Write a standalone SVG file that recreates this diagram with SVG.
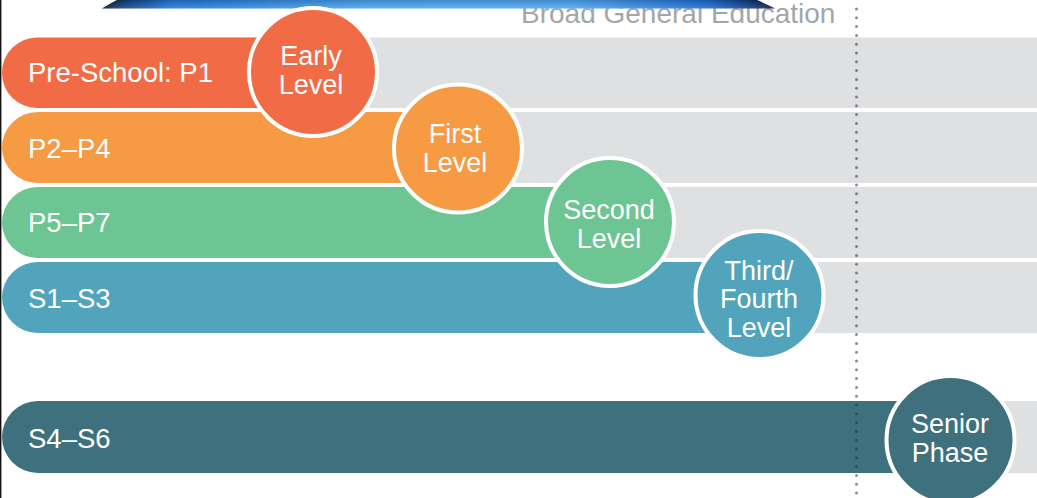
<svg xmlns="http://www.w3.org/2000/svg" width="1037" height="498" viewBox="0 0 1037 498">
<defs>
<linearGradient id="banner" x1="0" y1="0" x2="1" y2="0">
<stop offset="0" stop-color="#050c18"/>
<stop offset="0.03" stop-color="#0d3a78"/>
<stop offset="0.1" stop-color="#1f74d4"/>
<stop offset="0.4" stop-color="#47a2f0"/>
<stop offset="0.7" stop-color="#4aa4f2"/>
<stop offset="0.9" stop-color="#1a6ad0"/>
<stop offset="0.97" stop-color="#0a3270"/>
<stop offset="1" stop-color="#041430"/>
</linearGradient>
<linearGradient id="bannerV" x1="0" y1="0" x2="0" y2="1">
<stop offset="0" stop-color="#000" stop-opacity="0.15"/>
<stop offset="1" stop-color="#fff" stop-opacity="0.15"/>
</linearGradient>
</defs>
<style>
.gray{fill:#dfe0e2}
.bar-label{font-family:"Liberation Sans",Arial,sans-serif;font-size:27.5px;fill:#ffffff}
.circ{stroke:#ffffff;stroke-width:4}
.circ-label{font-family:"Liberation Sans",Arial,sans-serif;font-size:27px;fill:#ffffff;text-anchor:middle}
.title{font-family:"Liberation Sans",Arial,sans-serif;font-size:28px;fill:#a3a6a9}
</style>
<rect x="0" y="0" width="1037" height="498" fill="#ffffff"/>
<rect x="0" y="0" width="1.4" height="498" fill="#111111"/>
<text class="title" x="521" y="23">Broad General Education</text>
<path d="M117,0 L757,0 C764,3 770,6 775,8.5 L102,8.5 C106,6 111,3 117,0 Z" fill="url(#banner)"/>
<path d="M117,0 L757,0 C764,3 770,6 775,8.5 L102,8.5 C106,6 111,3 117,0 Z" fill="url(#bannerV)"/>
<g id="background-rows">
<rect class="gray" x="200" y="37.5" width="837" height="70.5"/>
<rect class="gray" x="200" y="112" width="837" height="71"/>
<rect class="gray" x="200" y="187" width="837" height="71"/>
<rect class="gray" x="200" y="262" width="837" height="71"/>
<rect class="gray" x="600" y="401" width="437" height="72"/>
</g>
<g id="row-preschool">
<rect x="2" y="37.5" width="350" height="70.5" rx="35" fill="#f26b47"/>
<text class="bar-label" x="28" y="82">Pre-School: P1</text>
</g>
<g id="row-p2p4">
<rect x="2" y="112" width="490" height="71" rx="35.5" fill="#f69a43"/>
<text class="bar-label" x="28" y="158">P2–P4</text>
</g>
<g id="row-p5p7">
<rect x="2" y="187" width="640" height="71" rx="35.5" fill="#6ec594"/>
<text class="bar-label" x="28" y="232">P5–P7</text>
</g>
<g id="row-s1s3">
<rect x="2" y="262" width="790" height="71" rx="35.5" fill="#52a4bc"/>
<text class="bar-label" x="28" y="308">S1–S3</text>
</g>
<g id="row-s4s6">
<rect x="2" y="401" width="980" height="72" rx="36" fill="#3e717d"/>
<text class="bar-label" x="28" y="448">S4–S6</text>
</g>
<g id="connectors">
<line x1="856.5" y1="9" x2="856.5" y2="498" stroke="#2a2e33" stroke-opacity="0.55" stroke-width="3" stroke-linecap="round" stroke-dasharray="0 8.8"/>
</g>
<g id="early-level">
<circle class="circ" cx="313" cy="72" r="64" fill="#f26b47"/>
<text class="circ-label" x="311" y="65">Early</text>
<text class="circ-label" x="311" y="94">Level</text>
</g>
<g id="first-level">
<circle class="circ" cx="458" cy="148.5" r="64" fill="#f69a43"/>
<text class="circ-label" x="455" y="143">First</text>
<text class="circ-label" x="455" y="172">Level</text>
</g>
<g id="second-level">
<circle class="circ" cx="610" cy="222" r="64" fill="#6ec594"/>
<text class="circ-label" x="609" y="219">Second</text>
<text class="circ-label" x="609" y="248">Level</text>
</g>
<g id="third-fourth-level">
<circle class="circ" cx="759.5" cy="295" r="64" fill="#52a4bc"/>
<text class="circ-label" x="759" y="280">Third/</text>
<text class="circ-label" x="759" y="308">Fourth</text>
<text class="circ-label" x="759" y="337">Level</text>
</g>
<g id="senior-phase">
<circle class="circ" cx="950.5" cy="440" r="64" fill="#3e717d"/>
<text class="circ-label" x="950" y="433">Senior</text>
<text class="circ-label" x="950" y="462">Phase</text>
</g>
</svg>
